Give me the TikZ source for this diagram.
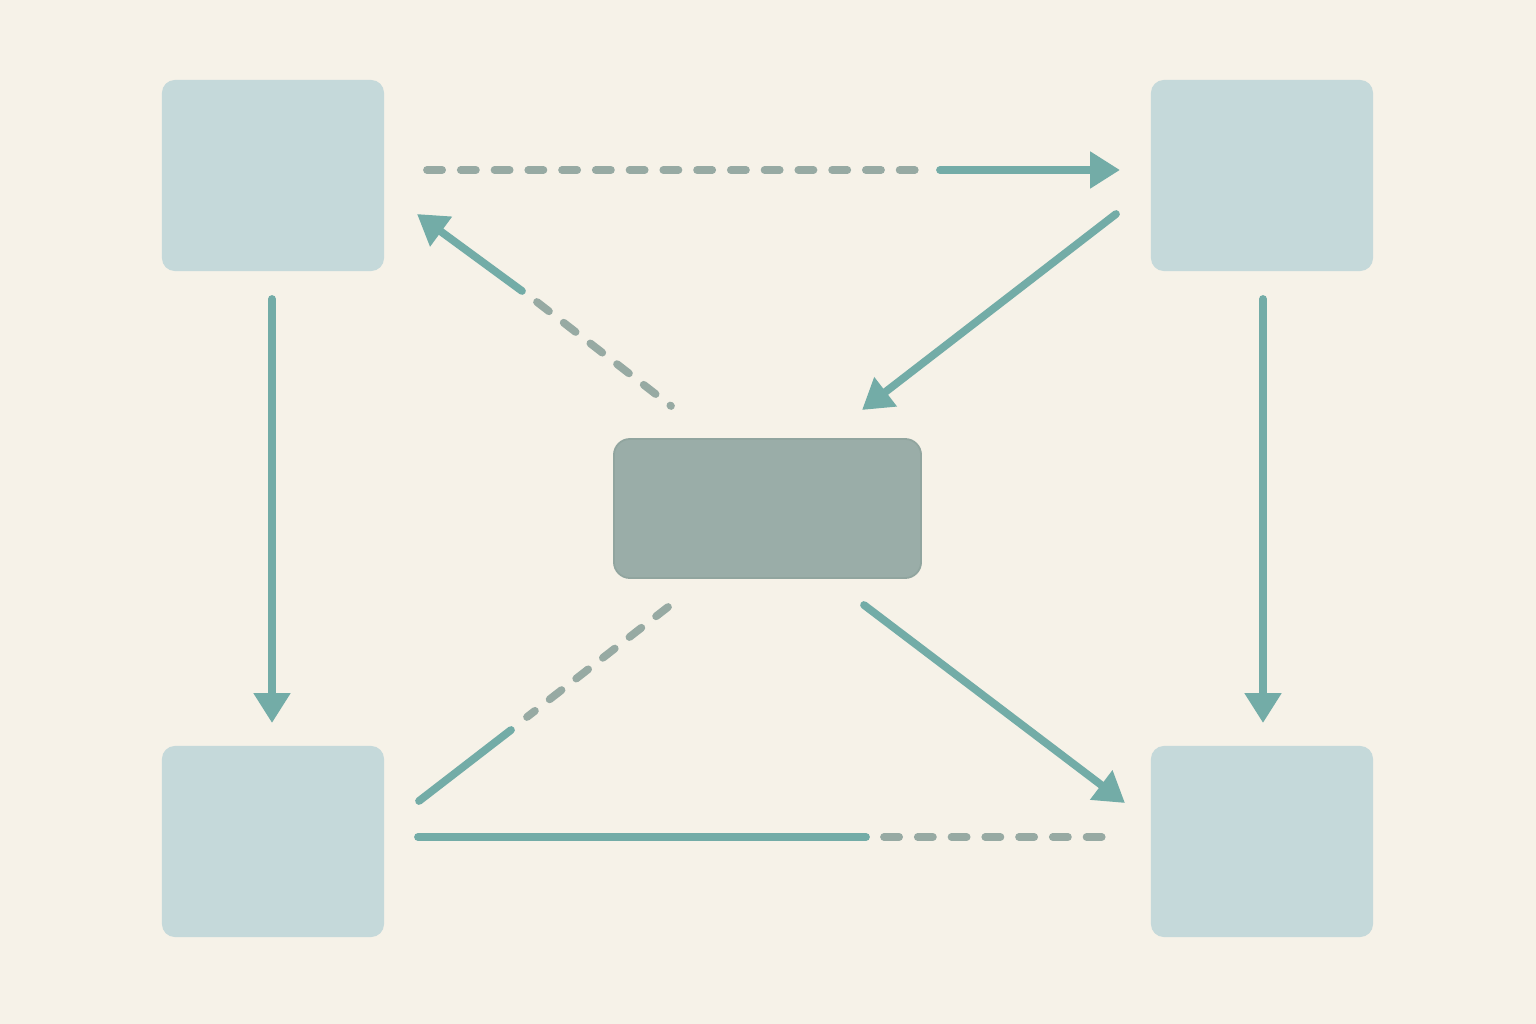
\documentclass[tikz,border=0pt]{standalone}
\usetikzlibrary{arrows.meta}
\usepackage{xcolor}

\definecolor{paper}{HTML}{F6F2E8}
\definecolor{boxfill}{HTML}{C5D9DA}
\definecolor{hubfill}{HTML}{9AADA8}
\definecolor{hubedge}{HTML}{91A59F}
\definecolor{teal}{HTML}{73ACA7}
\definecolor{slate}{HTML}{97AAA3}

\begin{document}
\begin{tikzpicture}[x=0.01cm, y=-0.01cm, line cap=round,
    box/.style={rectangle, rounded corners=0.13cm, fill=boxfill, inner sep=0pt,
                minimum width=2.22cm, minimum height=1.91cm},
    hubbox/.style={rectangle, rounded corners=0.16cm, fill=hubfill, draw=hubedge,
                line width=0.5pt, inner sep=0pt, minimum width=3.07cm, minimum height=1.39cm},
    solidline/.style={draw=teal, line width=2.2pt},
    solidarrow/.style={solidline, -{Triangle[length=8.5pt, width=10pt]}},
    dashline/.style={draw=slate, line width=2.2pt, dash pattern=on 4.3pt off 5.3pt}]
      \fill[paper] (0,0) rectangle (1536,1024);

      \node[box, name=tl] at (273,175.5) {};
      \node[box, name=tr] at (1262,175.5) {};
      \node[box, name=bl] at (273,841.5) {};
      \node[box, name=br] at (1262,841.5) {};
      \node[hubbox, name=hub] at (767.5,508.5) {};

      % connector ends
      \coordinate (a1) at (427,170);  \coordinate (a2) at (921,170);
      \coordinate (a3) at (940,170);  \coordinate (a4) at (1120,170);
      \coordinate (b1) at (1116,214); \coordinate (b2) at (862,410);
      \coordinate (c1) at (671,406);  \coordinate (c2) at (537,302);
      \coordinate (c3) at (522,291);  \coordinate (c4) at (417,214);
      \coordinate (d1) at (272,299);  \coordinate (d2) at (272,723);
      \coordinate (e1) at (1263,299); \coordinate (e2) at (1263,723);
      \coordinate (f1) at (864,605);  \coordinate (f2) at (1125,803);
      \coordinate (g1) at (668,607);  \coordinate (g2) at (527,717);
      \coordinate (g3) at (511,730);  \coordinate (g4) at (419,801);
      \coordinate (h1) at (418,837);  \coordinate (h2) at (866,837);
      \coordinate (h3) at (884,837);  \coordinate (h4) at (1104,837);

      \path
         (a1) edge[dashline] (a2)
         (a3) edge[solidarrow] (a4)
         (b1) edge[solidarrow] (b2)
         (c2) edge[dashline] (c1)
         (c3) edge[solidarrow] (c4)
         (d1) edge[solidarrow] (d2)
         (e1) edge[solidarrow] (e2)
         (f1) edge[solidarrow] (f2)
         (g1) edge[dashline] (g2)
         (g3) edge[solidline] (g4)
         (h1) edge[solidline] (h2)
         (h3) edge[dashline] (h4);
   \end{tikzpicture}
\end{document}
